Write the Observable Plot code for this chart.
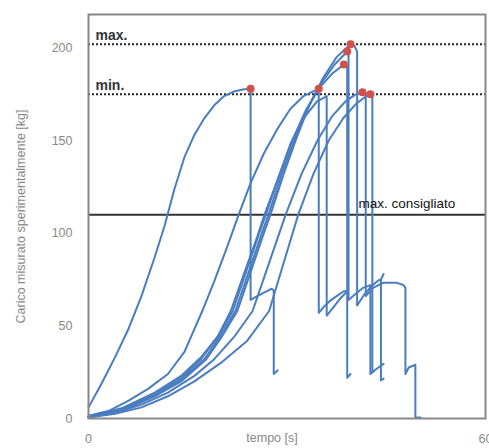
<!DOCTYPE html>
<html>
<head>
<meta charset="utf-8">
<script src="https://cdn.jsdelivr.net/npm/d3@7"></script>
<script src="https://cdn.jsdelivr.net/npm/@observablehq/plot@0.6"></script>
<style>
  html, body { margin: 0; padding: 0; background: #fff; overflow: hidden; }
</style>
</head>
<body>
<div id="chart"></div>
<script>
// Axis ticks
const xTicks = [0, 60];
const yTicks = [0, 50, 100, 150, 200];

// Reference lines
const refValues = [202, 175, 110];
const refLabels = ["max.", "min.", "max. consigliato"];

// Curves: [tempo s, carico kg]
const curveA = [[0,6],[2,19],[4,33],[6,48],[8,66],[10,87],[11.5,104],[13,124],[14.5,141],[16,153],[17.5,162],[19,169],[20.5,174],[22,176.5],[23.3,177.5],[24.5,178],
  [24.5,64],[25.5,66],[26.8,68.5],[27.7,70],[28,69],[28,24],[28.6,26]];
const curveB = [[0,1.5],[3,4],[6,9.5],[9,16],[12,24],[14.5,36],[17.2,58],[19,74],[21,93],[22.7,110],[24.5,127],[26.5,143],[28.5,156],[30.5,167],[32.5,174],[34.8,178],
  [34.8,57],[35.5,60],[36.5,63.5],[37.5,66],[38.5,68.5],[39.1,69]];
const curveD = [[0,1],[5,5],[10,13],[14,22],[17,32],[19.5,44],[21.5,58],[23.5,78],[25.5,98],[26.6,110],[28.5,128],[30.5,148],[32.5,162],[34.5,171],[36,174],
  [36,55.5],[37,60],[38,64.5],[38.9,68]];
const curveE = [[0,1.2],[5,5.5],[10,14],[14,23],[17,33],[19.7,45],[21.8,58],[23.8,79],[25.8,100],[26.8,110],[28.8,131],[30.8,150],[32.8,166],[34.8,178],[36.8,186],[38.6,191],[39.1,190],
  [39.1,22],[39.6,24]];
const curveF = [[0,1],[5,4.5],[10,12.5],[14,21],[17.5,32],[20,45],[22.2,58],[24.2,79],[26.2,100],[27.2,110],[29.2,132],[31.2,151],[33.2,168],[35.2,181],[37.2,191],[39.1,198],[39.3,197],
  [39.3,64],[40.3,67],[41.5,70.5],[42.6,72],[42.6,24],[43.1,25.5]];
const curveG = [[0,0.8],[5,4],[10,12],[14,20],[17.8,32],[20.3,45],[22.5,58],[24.5,79],[26.5,100],[27.5,110],[29.5,132],[31.5,152],[33.5,170],[35.5,184],[37.5,195],[39.6,202],[40.2,201],[40.6,198],
  [40.6,61],[41.6,66.5],[42.8,71.5],[43.8,74.5],[44.2,75],[44.6,78],[44.2,75],[44.2,20.5],[44.6,21.5]];
const curveH = [[0,1],[4,3],[8,7.5],[12,14],[16,23],[19,32],[22,44],[24.8,58],[27.3,84],[29.8,110],[32.2,132],[34.6,150],[36.8,163],[38.8,171],[40.2,174.5],[41.4,176],[41.9,175.5],
  [41.9,66],[43,70.5],[44.6,73.3],[46.5,73.3],[47.6,72],[47.9,70.5],[47.9,24],[48.4,27.5],[49.4,29],[49.4,0.5],[50.2,0.5]];
const curveI = [[0,0.5],[4,2.5],[8,6],[12,12],[16,20],[20,30],[24,42],[27.3,58],[29.5,84],[31.7,110],[34,132],[36.3,150],[38.5,162],[40.5,170],[41.8,173.5],[42.6,175],[42.9,174.5],
  [42.9,25],[43.8,27.5],[44.6,29.5]];

// Which curves show a red marker at their maximum
const curveNames = ["A", "B", "D", "E", "F", "G", "H", "I"];
const curveList = [curveA, curveB, curveD, curveE, curveF, curveG, curveH, curveI];
const markedCurves = ["A", "B", "E", "F", "G", "H", "I"];

const rows = curveList.flatMap((c, i) => c.map(([t, kg]) => ({id: curveNames[i], t, kg})));
const peaks = curveList
  .map((c, i) => ({id: curveNames[i], p: d3.greatest(c, d => d[1])}))
  .filter(d => markedCurves.includes(d.id))
  .map(d => ({t: d.p[0], kg: d.p[1]}));

const refs = refValues.map((v, i) => ({v, label: refLabels[i]}));

const blue = "#4a7dc0";

const chart = Plot.plot({
  width: 489,
  height: 448,
  marginLeft: 88,
  marginRight: 4,
  marginTop: 14,
  marginBottom: 30,
  style: {fontFamily: "'Liberation Sans', Arial, sans-serif", fontSize: "12.5px", color: "#888", background: "#fff"},
  x: {domain: [0, 60], ticks: xTicks, tickSize: 0, tickPadding: 16, label: null},
  y: {domain: [0, 218], ticks: yTicks, tickSize: 0, tickPadding: 16, label: null},
  marks: [
    Plot.ruleY(refs.filter(d => d.label !== "max. consigliato"), {y: "v", stroke: "#222", strokeWidth: 2, strokeDasharray: "2,2"}),
    Plot.ruleY(refs.filter(d => d.label === "max. consigliato"), {y: "v", stroke: "#333", strokeWidth: 2}),
    Plot.line(rows, {x: "t", y: "kg", z: "id", stroke: blue, strokeWidth: 2, curve: "linear"}),
    Plot.dot(peaks, {x: "t", y: "kg", r: 4, fill: "#d0504a", stroke: "none"}),
    Plot.text(refs.filter(d => d.label !== "max. consigliato"), {x: 0, y: "v", text: "label", textAnchor: "start", lineAnchor: "bottom", dx: 7, dy: -4, fill: "#333", fontSize: 14, fontWeight: "bold"}),
    Plot.text(refs.filter(d => d.label === "max. consigliato"), {x: 40.8, y: "v", text: "label", textAnchor: "start", lineAnchor: "bottom", dy: -7, fill: "#111", fontSize: 13.5}),
    Plot.frame({stroke: "#888", strokeWidth: 2}),
    Plot.text(["tempo [s]"], {frameAnchor: "bottom", dx: -15, dy: 19, lineAnchor: "middle", fill: "#888", fontSize: 12.5}),
    Plot.text(["Carico misurato sperimentalmente [kg]"], {frameAnchor: "middle", dx: -266, rotate: -90, textAnchor: "middle", lineAnchor: "middle", fill: "#888", fontSize: 12.5})
  ]
});
document.getElementById("chart").appendChild(chart);
</script>
</body>
</html>
